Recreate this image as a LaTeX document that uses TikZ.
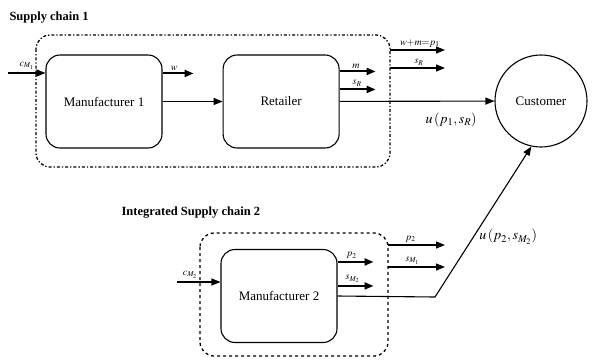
\documentclass[tikz,border=0pt]{standalone}
\usepackage{mathptmx}
\usepackage{fontspec}
\setmainfont{Liberation Serif}
\usetikzlibrary{positioning, arrows.meta, calc}

\begin{document}
\begin{tikzpicture}[x=1pt, y=-1pt,
    box/.style={draw, line width=1.1pt, rounded corners=14pt,
      minimum width=116pt, minimum height=93pt, font=\fontsize{13}{15}\selectfont},
    grp/.style={draw, line width=1.3pt, rounded corners=14pt},
    titel/.style={anchor=west, font=\fontsize{12.5}{14}\selectfont\bfseries},
    pfeil/.style={-{Triangle[length=9pt,width=7pt]}, line width=1.1pt},
    dick/.style={-{Triangle[length=9pt,width=7pt]}, line width=2pt},
    lbl/.style={font=\fontsize{10}{11}\selectfont, inner sep=1pt},
    ulbl/.style={font=\fontsize{14}{16}\selectfont}]
  \useasboundingbox (0,0) rectangle (605,360);
  % supply chain 1
  \node[titel] (t1) at (6,18) {Supply chain 1};
  \draw[grp, dash dot] (36,35) rectangle (390,167);
  \node[box] (man1) at (104,101.5) {Manufacturer 1};
  \node[box, right=60pt of man1] (ret) {Retailer};
  \node[draw, circle, line width=1.1pt, minimum size=92pt,
    font=\fontsize{13}{15}\selectfont] (cust) at (541,101) {Customer};
  \coordinate (cm1) at (8,73);
  \draw[pfeil] (cm1) -- node[lbl, above=2pt, pos=0.5] {$c_{M_1}$} (cm1 -| man1.west);
  \draw[dick] ($(man1.north east)+(0,19)$) -- ++(31,0) node[lbl, above left=1pt and 14pt] {$w$};
  \draw[pfeil] (man1) -- (ret);
  \draw[dick] ($(ret.north east)+(0,17)$) -- ++(36,0) node[lbl, above left=1pt and 14pt] {$m$};
  \draw[dick] ($(ret.north east)+(0,35)$) -- ++(36,0) node[lbl, above left=1pt and 12pt] {$s_R$};
  \draw[pfeil] (ret) -- node[ulbl, below=8pt, pos=0.72] {$u\left(p_1,s_R\right)$} (cust);
  \coordinate (o1) at (390,50);
  \coordinate (o2) at (390,68);
  \draw[pfeil] (o1) -- ++(55,0) node[lbl, above left=1pt and 4pt] {$w{+}m{=}p_1$};
  \draw[pfeil] (o2) -- ++(55,0) node[lbl, above left=1pt and 20pt] {$s_R$};
  % integrated supply chain 2
  \node[titel] (t2) at (118,213) {Integrated Supply chain 2};
  \draw[grp, dashed] (200,233) rectangle (388,356);
  \node[box] (man2) at (279,296) {Manufacturer 2};
  \coordinate (cm2) at (177,282);
  \draw[pfeil] (cm2) -- node[lbl, above=2pt, pos=0.3] {$c_{M_2}$} (cm2 -| man2.west);
  \draw[dick] ($(man2.north east)+(0,13)$) -- ++(36,0) node[lbl, above left=1pt and 15pt] {$p_2$};
  \draw[dick] ($(man2.north east)+(0,37)$) -- ++(36,0) node[lbl, above left=1pt and 12pt] {$s_{M_2}$};
  \coordinate (o3) at (388,245);
  \coordinate (o4) at (388,267);
  \draw[pfeil] (o3) -- ++(57,0) node[lbl, above left=1pt and 28pt] {$p_2$};
  \draw[pfeil] (o4) -- ++(57,0) node[lbl, above left=1pt and 24pt] {$s_{M_1}$};
  \coordinate (kn) at (435,297);
  \draw[pfeil] (man2.east) -- (kn) -- node[ulbl, right=2pt, pos=0.4] {$u\left(p_2,s_{M_2}\right)$} (cust.258);
\end{tikzpicture}
\end{document}
